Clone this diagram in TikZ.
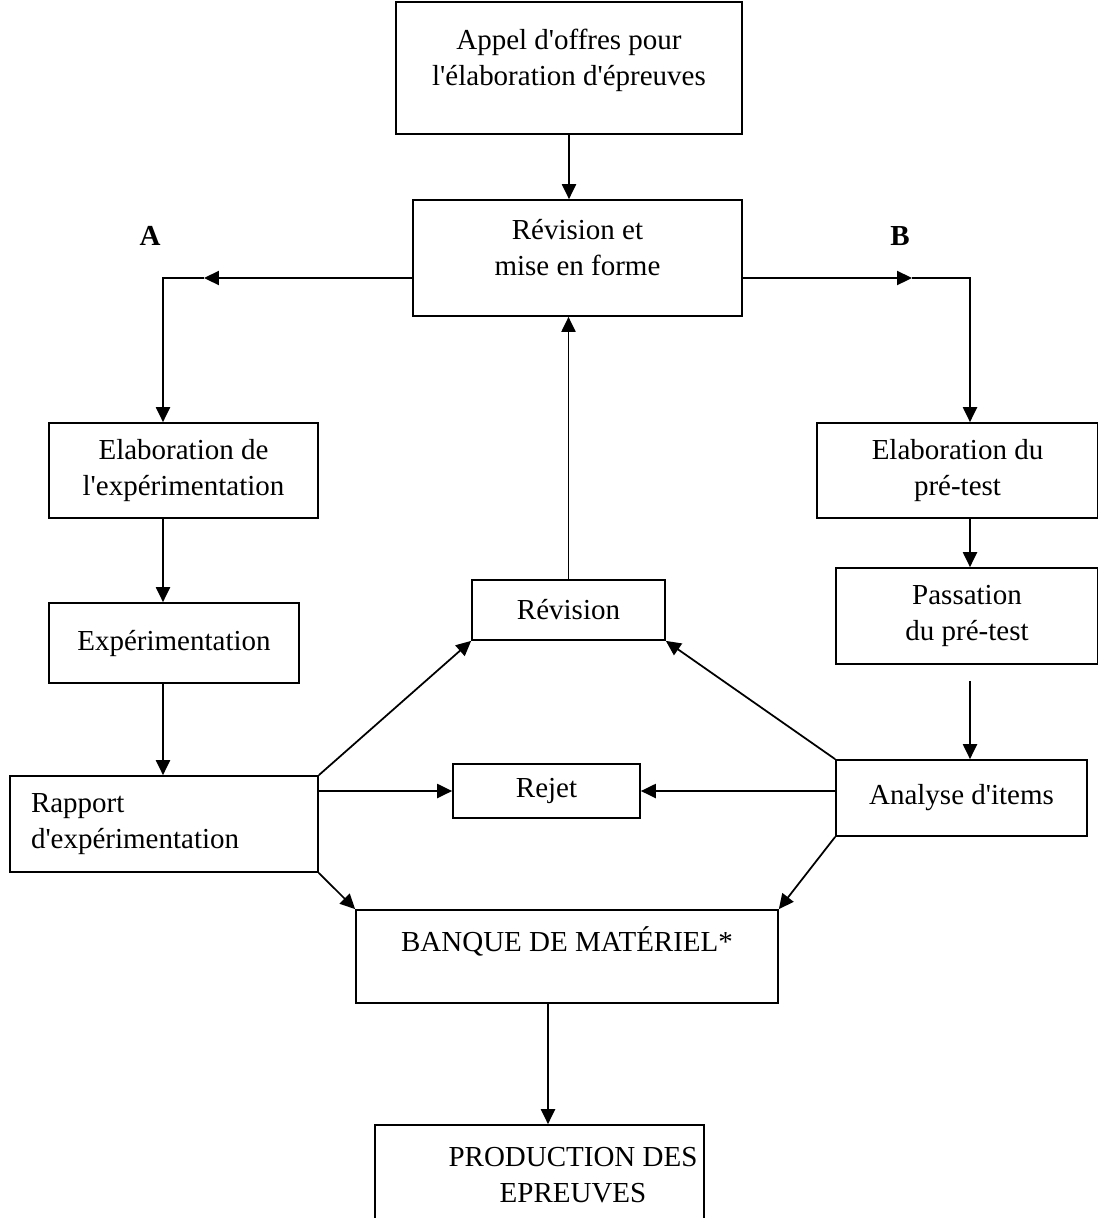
\documentclass[tikz,border=0pt]{standalone}
\usepackage{fontspec}
\setmainfont{Liberation Serif}
\usetikzlibrary{arrows.meta}
\newcommand\apos{\textquotesingle}
\tikzset{
	box/.style={draw, line width=1pt, align=center, inner sep=0pt, font=\fontsize{16.5}{20.4}\selectfont},
	arr/.style={line width=1pt, -{Triangle[length=8.5pt,width=8pt]}},
	lin/.style={line width=1pt}
}
\begin{document}
\begin{tikzpicture}[x=0.02cm, y=-0.02cm]
	\useasboundingbox (0,0) rectangle (1098,1218);
	% boites
	\node[box, minimum width=6.92cm, minimum height=2.64cm] (appel) at (569,68) {Appel d\apos offres pour\\l\apos élaboration d\apos épreuves\\[-8pt]\mbox{}};
	\node[box, minimum width=6.58cm, minimum height=2.32cm] (revmef) at (577.5,258) {Révision et\\mise en forme\\[-8pt]\mbox{}};
	\node[box, minimum width=5.38cm, minimum height=1.90cm] (elabexp) at (183.5,470.5) {Elaboration de\\l\apos expérimentation};
	\node[box, minimum width=5.00cm, minimum height=1.60cm] (exper) at (174,643) {Expérimentation};
	\node[box, align=left, text width=5.32cm, inner xsep=0.42cm, minimum height=1.92cm] (rapport) at (164,824) {Rapport\\d\apos expérimentation};
	\node[box, minimum width=3.86cm, minimum height=1.20cm] (revsmall) at (568.5,610) {Révision};
	\node[box, minimum width=3.74cm, minimum height=1.08cm] (rejet) at (546.5,791) {Rejet};
	\node[box, minimum width=5.62cm, minimum height=1.90cm] (elabpre) at (957.5,470.5) {Elaboration du\\pré-test};
	\node[box, minimum width=5.24cm, minimum height=1.92cm] (passation) at (967,616) {Passation\\du pré-test};
	\node[box, minimum width=5.02cm, minimum height=1.52cm] (analyse) at (961.5,798) {Analyse d\apos items};
	\node[box, minimum width=8.44cm, minimum height=1.86cm] (banque) at (567,956.5) {BANQUE DE MATÉRIEL*\\\mbox{}};
	\node[box, minimum width=6.58cm, minimum height=2.70cm] (prod) at (539.5,1192.5) {};
	\node[align=center, inner sep=0pt, font=\fontsize{16.5}{20.4}\selectfont] (prodtxt) at (573,1175) {PRODUCTION DES\\EPREUVES};
	\node[font=\fontsize{16.5}{20.4}\selectfont\bfseries] (labA) at (150,236) {A};
	\node[font=\fontsize{16.5}{20.4}\selectfont\bfseries] (labB) at (900,236) {B};
	% points de passage
	\coordinate (ka) at (163,278);
	\coordinate (ta) at (204,278);
	\coordinate (kb) at (970,278);
	\coordinate (tb) at (912,278);
	\coordinate (kc) at (548,1003);
	% fleches
	\draw[arr] (appel.south) -- (appel.south |- revmef.north);
	\draw[arr] (ka -| revmef.west) -- (ta);
	\draw[arr] (ta) -- (ka) -- (elabexp.north -| ka);
	\draw[arr] (kb -| revmef.east) -- (tb);
	\draw[arr] (tb) -- (kb) -- (elabpre.north -| kb);
	\draw[arr] (elabexp.south -| ka) -- (exper.north -| ka);
	\draw[arr] (exper.south -| ka) -- (rapport.north -| ka);
	\draw[arr] (elabpre.south -| kb) -- (passation.north -| kb);
	\draw[arr] ([yshift=-0.32cm]passation.south -| kb) -- (analyse.north -| kb);
	\draw[arr] (revsmall.north) -- (revsmall.north |- revmef.south);
	\draw[arr] (rapport.north east) -- (revsmall.south west);
	\draw[arr] (analyse.north west) -- (revsmall.south east);
	\draw[arr] (rejet.west -| rapport.east) -- (rejet.west);
	\draw[arr] (rejet.east -| analyse.west) -- (rejet.east);
	\draw[arr] (rapport.south east) -- (banque.north west);
	\draw[arr] (analyse.south west) -- (banque.north east);
	\draw[arr] (kc) -- (prod.north -| kc);
\end{tikzpicture}
\end{document}
